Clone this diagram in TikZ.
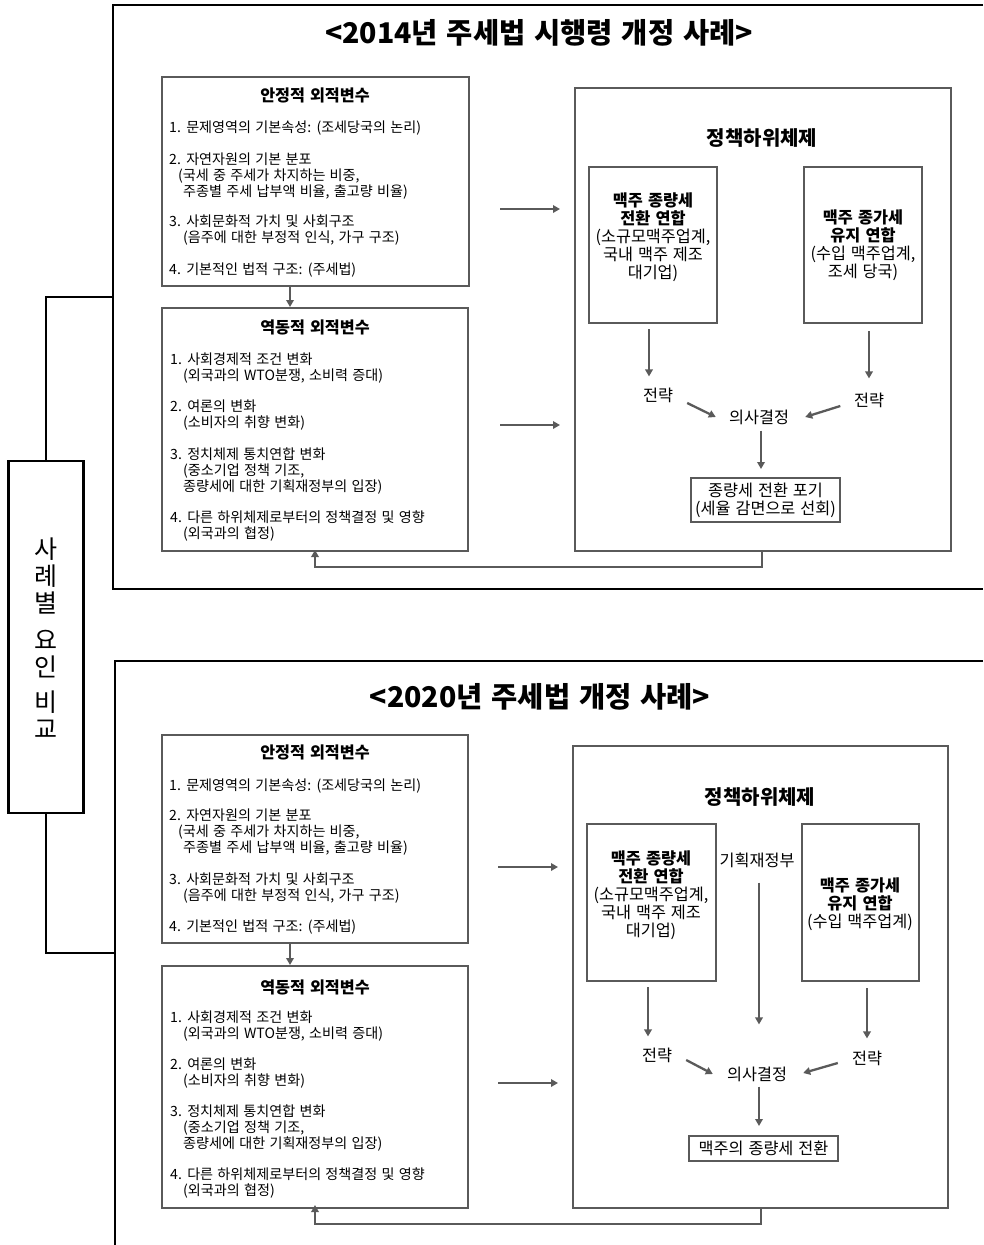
\documentclass[tikz,border=0pt]{standalone}
\usepackage{fontspec}
\setmainfont[WordSpace=1.35]{Noto Sans CJK KR}
\usetikzlibrary{arrows.meta}
\definecolor{linegray}{HTML}{5A5A5A}
\begin{document}
\begin{tikzpicture}[x=1pt,y=-1pt,
  frame/.style={draw=black,line width=2.8pt},
  blk/.style={draw=black,line width=2.4pt},
  gbox/.style={draw=linegray,line width=2.6pt,inner sep=0pt,outer sep=0pt},
  arr/.style={draw=linegray,line width=2.3pt,-{Triangle[length=7pt,width=7.5pt]}},
  itm/.style={inner sep=0pt,anchor=west,align=left,font=\fontsize{14.1}{16}\selectfont},
  ttl/.style={inner sep=0pt,font=\bfseries\fontsize{16.2}{18}\selectfont},
  ptx/.style={inner sep=0pt,align=center,font=\fontsize{16.3}{18}\selectfont},
  big/.style={inner sep=0pt,font=\bfseries\fontsize{28.5}{30}\selectfont},
]
\useasboundingbox (0,0) rectangle (983,1245);

% ---------- outer frames ----------
\draw[frame] (983,5) -- (113,5) -- (113,589) -- (983,589);
\draw[frame] (983,661) -- (115,661) -- (115,1245);

% ---------- side label ----------
\node[draw=black,line width=2.4pt,inner sep=0pt,outer sep=0pt,minimum width=75pt,minimum height=352pt] (lab) at (46,637) {};
\node[inner sep=0pt,align=center,font=\fontsize{25}{27}\selectfont] (labt) at (46,638) {사\\례\\별\\[10pt]요\\인\\[8pt]비\\교};
\coordinate (f1) at (113,297);
\coordinate (f2) at (115,953);
\draw[blk] (lab.north) |- (f1);
\draw[blk] (lab.south) |- (f2);

% =========== 2014 ===========
\node[big] (t1) at (539,33) {<2014년 주세법 시행령 개정 사례>};

\node[gbox,anchor=north west,minimum width=307pt,minimum height=209pt] (st1) at (162,77) {};
\node[ttl] (st1t) at (315,95) {안정적 외적변수};
\node[itm] (st1a) at (169,128) {1. 문제영역의 기본속성: (조세당국의 논리)};
\node[itm] (st1b) at (169,176) {2. 자연자원의 기본 분포\\\hspace*{9pt}(국세 중 주세가 차지하는 비중,\\\hspace*{14pt}주종별 주세 납부액 비율, 출고량 비율)};
\node[itm] (st1c) at (169,230) {3. 사회문화적 가치 및 사회구조\\\hspace*{14pt}(음주에 대한 부정적 인식, 가구 구조)};
\node[itm] (st1d) at (169,270) {4. 기본적인 법적 구조: (주세법)};

\node[gbox,anchor=north west,minimum width=306pt,minimum height=243pt] (dy1) at (162,308) {};
\node[ttl] (dy1t) at (315,327) {역동적 외적변수};
\node[itm] (dy1a) at (170,368) {1. 사회경제적 조건 변화\\\hspace*{13pt}(외국과의 WTO분쟁, 소비력 증대)};
\node[itm] (dy1b) at (170,415) {2. 여론의 변화\\\hspace*{13pt}(소비자의 취향 변화)};
\node[itm] (dy1c) at (170,471) {3. 정치체제 통치연합 변화\\\hspace*{13pt}(중소기업 정책 기조,\\\hspace*{13pt}종량세에 대한 기획재정부의 입장)};
\node[itm] (dy1d) at (170,526) {4. 다른 하위체제로부터의 정책결정 및 영향\\\hspace*{13pt}(외국과의 협정)};

\node[gbox,anchor=north west,minimum width=376pt,minimum height=463pt] (po1) at (575,88) {};
\node[inner sep=0pt,font=\bfseries\fontsize{20}{22}\selectfont] (po1t) at (762,138) {정책하위체제};
\node[gbox,anchor=north west,minimum width=128pt,minimum height=156pt] (c1L) at (589,167) {};
\node[ptx] (c1Lt) at (653,237.5) {\textbf{맥주 종량세}\\\textbf{전환 연합}\\(소규모맥주업계,\\국내 맥주 제조\\대기업)};
\node[gbox,anchor=north west,minimum width=118pt,minimum height=156pt] (c1R) at (804,167) {};
\node[ptx] (c1Rt) at (863,245.5) {\textbf{맥주 종가세}\\\textbf{유지 연합}\\(수입 맥주업계,\\조세 당국)};
\node[ptx] (sL1) at (658,395) {전략};
\node[ptx] (sR1) at (869,400) {전략};
\node[ptx] (dec1) at (759,417) {의사결정};
\node[gbox,ptx,draw=linegray,minimum width=149pt,minimum height=44pt] (out1) at (765.5,500) {종량세 전환 포기\\(세율 감면으로 선회)};

\draw[arr,shorten >=1pt] (290,0 |- st1.south) -- (290,0 |- dy1.north);
\draw[arr,shorten <=31pt,shorten >=15pt] (st1.east |- 0,209) -- (po1.west |- 0,209);
\draw[arr,shorten <=32pt,shorten >=15pt] (dy1.east |- 0,425) -- (po1.west |- 0,425);
\draw[arr,shorten <=6pt,shorten >=11pt] (649,0 |- c1L.south) -- (649,0 |- sL1.north);
\draw[arr,shorten <=8pt,shorten >=14pt] (869,0 |- c1R.south) -- (869,0 |- sR1.north);
\draw[arr] ([shift={(14,8)}]sL1.east) -- ([shift={(-13,0)}]dec1.west);
\draw[arr] ([shift={(-13.5,6)}]sR1.west) -- ([shift={(16,0)}]dec1.east);
\draw[arr,shorten <=6pt,shorten >=9pt] (761,0 |- dec1.south) -- (761,0 |- out1.north);
\coordinate (fb1) at (762,567);
\draw[arr,shorten >=-1pt] (fb1 |- po1.south) -- (fb1) -| (315,0 |- dy1.south);

% =========== 2020 ===========
\node[big] (t2) at (540,697) {<2020년 주세법 개정 사례>};

\node[gbox,anchor=north west,minimum width=306pt,minimum height=208pt] (st2) at (162,735) {};
\node[ttl] (st2t) at (315,752) {안정적 외적변수};
\node[itm] (st2a) at (169,786) {1. 문제영역의 기본속성: (조세당국의 논리)};
\node[itm] (st2b) at (169,832.5) {2. 자연자원의 기본 분포\\\hspace*{9pt}(국세 중 주세가 차지하는 비중,\\\hspace*{14pt}주종별 주세 납부액 비율, 출고량 비율)};
\node[itm] (st2c) at (169,888) {3. 사회문화적 가치 및 사회구조\\\hspace*{14pt}(음주에 대한 부정적 인식, 가구 구조)};
\node[itm] (st2d) at (169,927) {4. 기본적인 법적 구조: (주세법)};

\node[gbox,anchor=north west,minimum width=306pt,minimum height=242pt] (dy2) at (162,966) {};
\node[ttl] (dy2t) at (315,987) {역동적 외적변수};
\node[itm] (dy2a) at (170,1026) {1. 사회경제적 조건 변화\\\hspace*{13pt}(외국과의 WTO분쟁, 소비력 증대)};
\node[itm] (dy2b) at (170,1073) {2. 여론의 변화\\\hspace*{13pt}(소비자의 취향 변화)};
\node[itm] (dy2c) at (170,1128) {3. 정치체제 통치연합 변화\\\hspace*{13pt}(중소기업 정책 기조,\\\hspace*{13pt}종량세에 대한 기획재정부의 입장)};
\node[itm] (dy2d) at (170,1183) {4. 다른 하위체제로부터의 정책결정 및 영향\\\hspace*{13pt}(외국과의 협정)};

\node[gbox,anchor=north west,minimum width=375pt,minimum height=462pt] (po2) at (573,746) {};
\node[inner sep=0pt,font=\bfseries\fontsize{20}{22}\selectfont] (po2t) at (760,797) {정책하위체제};
\node[gbox,anchor=north west,minimum width=129pt,minimum height=157pt] (c2L) at (587,824) {};
\node[ptx] (c2Lt) at (651,895) {\textbf{맥주 종량세}\\\textbf{전환 연합}\\(소규모맥주업계,\\국내 맥주 제조\\대기업)};
\node[gbox,anchor=north west,minimum width=117pt,minimum height=157pt] (c2R) at (802,824) {};
\node[ptx] (c2Rt) at (860,904) {\textbf{맥주 종가세}\\\textbf{유지 연합}\\(수입 맥주업계)};
\node[ptx] (mof) at (757,860) {기획재정부};
\node[ptx] (sL2) at (657,1055) {전략};
\node[ptx] (sR2) at (867,1058) {전략};
\node[ptx] (dec2) at (757,1074) {의사결정};
\node[gbox,ptx,draw=linegray,minimum width=149pt,minimum height=25pt] (out2) at (763.5,1148.5) {맥주의 종량세 전환};

\draw[arr,shorten >=1pt] (290,0 |- st2.south) -- (290,0 |- dy2.north);
\draw[arr,shorten <=30pt,shorten >=15pt] (st2.east |- 0,867) -- (po2.west |- 0,867);
\draw[arr,shorten <=30pt,shorten >=15pt] (dy2.east |- 0,1083) -- (po2.west |- 0,1083);
\draw[arr,shorten <=6pt,shorten >=11pt] (648,0 |- c2L.south) -- (648,0 |- sL2.north);
\draw[arr,shorten <=7pt,shorten >=12pt] (867,0 |- c2R.south) -- (867,0 |- sR2.north);
\draw[arr,shorten <=15pt,shorten >=42pt] (759,0 |- mof.south) -- (759,0 |- dec2.north);
\draw[arr] ([shift={(14,5)}]sL2.east) -- ([shift={(-14,0)}]dec2.west);
\draw[arr] ([shift={(-14,5)}]sR2.west) -- ([shift={(16,-1)}]dec2.east);
\draw[arr,shorten <=5pt,shorten >=10pt] (759,0 |- dec2.south) -- (759,0 |- out2.north);
\coordinate (fb2) at (761,1224);
\draw[arr,shorten >=-3pt] (fb2 |- po2.south) -- (fb2) -| (315,0 |- dy2.south);
\end{tikzpicture}
\end{document}
